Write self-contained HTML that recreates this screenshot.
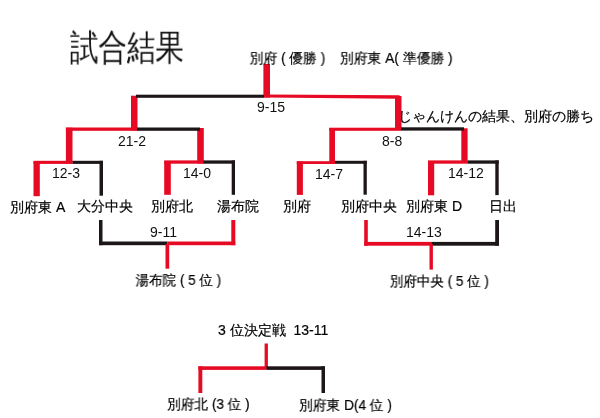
<!DOCTYPE html>
<html lang="ja"><head><meta charset="utf-8"><style>
html,body{margin:0;padding:0;background:#fff;width:600px;height:418px;overflow:hidden;}
.t{position:absolute;font-family:"Liberation Sans",sans-serif;line-height:1;white-space:pre;color:#000000;will-change:transform;-webkit-text-stroke:0.2px #000;}
.n{-webkit-text-stroke:0;color:#111;}
.h{-webkit-text-stroke:0;color:#111;}
svg{position:absolute;left:0;top:0;}
</style></head><body>
<svg width="600" height="418" viewBox="0 0 600 418">
<polygon points="264,94.5 399,95.3 401,96.5 399,98.7 264,97.6" fill="#e60a24"/>
<rect x="263.4" y="64" width="6.60" height="33.50" fill="#e60a24"/>
<rect x="131" y="95.7" width="6.50" height="34.80" fill="#e60a24"/>
<rect x="395" y="96.1" width="6.50" height="33.90" fill="#e60a24"/>
<rect x="136" y="94.7" width="128.00" height="3.10" fill="#1d1619"/>
<rect x="65.9" y="127.5" width="71.10" height="3.30" fill="#e60a24"/>
<rect x="65.9" y="127.7" width="6.60" height="35.80" fill="#e60a24"/>
<rect x="197.2" y="128" width="6.60" height="35.50" fill="#e60a24"/>
<rect x="137" y="127.5" width="63.00" height="3.30" fill="#1d1619"/>
<rect x="329.3" y="127.7" width="71.70" height="3.10" fill="#e60a24"/>
<rect x="329.3" y="128" width="5.70" height="35.50" fill="#e60a24"/>
<rect x="461.3" y="128.3" width="6.30" height="34.70" fill="#e60a24"/>
<rect x="401" y="127.3" width="63.00" height="3.30" fill="#1d1619"/>
<rect x="33.5" y="160.8" width="39.10" height="3.10" fill="#e60a24"/>
<rect x="72.6" y="160.8" width="30.40" height="3.10" fill="#1d1619"/>
<rect x="33.5" y="161.5" width="6.30" height="34.70" fill="#e60a24"/>
<rect x="99.5" y="160.8" width="3.50" height="34.90" fill="#1d1619"/>
<rect x="164.2" y="160.4" width="39.20" height="3.30" fill="#e60a24"/>
<rect x="203.4" y="160.4" width="31.60" height="3.30" fill="#1d1619"/>
<rect x="164.2" y="161.5" width="6.60" height="33.30" fill="#e60a24"/>
<rect x="231.7" y="160.4" width="3.30" height="34.40" fill="#1d1619"/>
<rect x="296.8" y="161.2" width="38.20" height="2.80" fill="#e60a24"/>
<rect x="335" y="160.8" width="31.80" height="3.00" fill="#1d1619"/>
<rect x="296.8" y="161.5" width="6.10" height="33.40" fill="#e60a24"/>
<rect x="363.5" y="160.8" width="3.30" height="33.90" fill="#1d1619"/>
<rect x="428" y="160.4" width="39.70" height="3.30" fill="#e60a24"/>
<rect x="467.7" y="160.4" width="31.00" height="3.30" fill="#1d1619"/>
<rect x="428" y="161.5" width="6.20" height="33.80" fill="#e60a24"/>
<rect x="495.3" y="160.4" width="3.40" height="34.70" fill="#1d1619"/>
<rect x="99" y="220" width="3.50" height="25.20" fill="#1d1619"/>
<rect x="99" y="241.5" width="68.30" height="3.70" fill="#1d1619"/>
<rect x="167.3" y="241.5" width="68.00" height="3.70" fill="#e60a24"/>
<rect x="231.3" y="220" width="4.00" height="25.20" fill="#e60a24"/>
<rect x="165.5" y="244" width="3.70" height="24.70" fill="#e60a24"/>
<rect x="364.2" y="220" width="3.60" height="25.70" fill="#e60a24"/>
<rect x="364.2" y="241.9" width="67.10" height="3.80" fill="#e60a24"/>
<rect x="431.3" y="241.9" width="67.70" height="3.80" fill="#1d1619"/>
<rect x="495.2" y="220" width="3.80" height="25.70" fill="#1d1619"/>
<rect x="429.5" y="244" width="3.40" height="25.60" fill="#e60a24"/>
<rect x="264.6" y="343.5" width="3.30" height="25.50" fill="#e60a24"/>
<rect x="198.4" y="366.3" width="68.10" height="3.60" fill="#e60a24"/>
<rect x="266.5" y="366.3" width="58.50" height="3.60" fill="#1d1619"/>
<rect x="198.4" y="366.3" width="3.90" height="26.70" fill="#e60a24"/>
<rect x="321.5" y="366.3" width="3.50" height="26.70" fill="#1d1619"/>
</svg>
<span class="t h" style="left:67.45px;top:33.00px;font-size:30px;transform:scale(0.95,1.2);transform-origin:59.5px 14.5px;">試合結果</span>
<span class="t" style="left:249.15px;top:51.25px;font-size:14px;transform:scale(0.985,1);transform-origin:38.5px 7.5px;">別府 ( 優勝 )</span>
<span class="t" style="left:338.90px;top:51.25px;font-size:14px;transform:scale(0.985,1);transform-origin:57.5px 7.5px;">別府東 A( 準優勝 )</span>
<span class="t n" style="left:257.15px;top:99.50px;font-size:14px;">9-15</span>
<span class="t" style="left:397.90px;top:109.35px;font-size:14px;">じゃんけんの結果、別府の勝ち</span>
<span class="t n" style="left:117.50px;top:134.25px;font-size:14px;">21-2</span>
<span class="t n" style="left:381.50px;top:134.35px;font-size:14px;">8-8</span>
<span class="t n" style="left:51.65px;top:166.20px;font-size:14px;">12-3</span>
<span class="t n" style="left:183.30px;top:166.25px;font-size:14px;">14-0</span>
<span class="t n" style="left:315.45px;top:166.60px;font-size:14px;">14-7</span>
<span class="t n" style="left:448.20px;top:165.90px;font-size:14px;">14-12</span>
<span class="t" style="left:10.25px;top:199.95px;font-size:14px;">別府東 A</span>
<span class="t" style="left:76.50px;top:199.10px;font-size:14px;">大分中央</span>
<span class="t" style="left:150.80px;top:199.00px;font-size:14px;">別府北</span>
<span class="t" style="left:217.10px;top:198.50px;font-size:14px;">湯布院</span>
<span class="t" style="left:282.70px;top:199.20px;font-size:14px;">別府</span>
<span class="t" style="left:340.55px;top:199.20px;font-size:14px;">別府中央</span>
<span class="t" style="left:406.10px;top:198.75px;font-size:14px;">別府東 D</span>
<span class="t" style="left:488.90px;top:198.55px;font-size:14px;">日出</span>
<span class="t n" style="left:149.75px;top:224.60px;font-size:14px;">9-11</span>
<span class="t n" style="left:406.00px;top:224.60px;font-size:14px;">14-13</span>
<span class="t" style="left:133.70px;top:272.80px;font-size:14px;transform:scale(0.965,1);transform-origin:44.0px 8.0px;">湯布院 ( 5 位 )</span>
<span class="t" style="left:387.85px;top:273.70px;font-size:14px;transform:scale(0.965,1);transform-origin:51.5px 7.5px;">別府中央 ( 5 位 )</span>
<span class="t" style="left:217.75px;top:323.20px;font-size:14px;">3 位決定戦  13-11</span>
<span class="t" style="left:166.40px;top:397.05px;font-size:14px;transform:scale(0.975,1);transform-origin:42.5px 7.5px;">別府北 (3 位 )</span>
<span class="t" style="left:298.20px;top:398.05px;font-size:14px;transform:scale(0.98,1);transform-origin:47.5px 7.5px;">別府東 D(4 位 )</span>
</body></html>
